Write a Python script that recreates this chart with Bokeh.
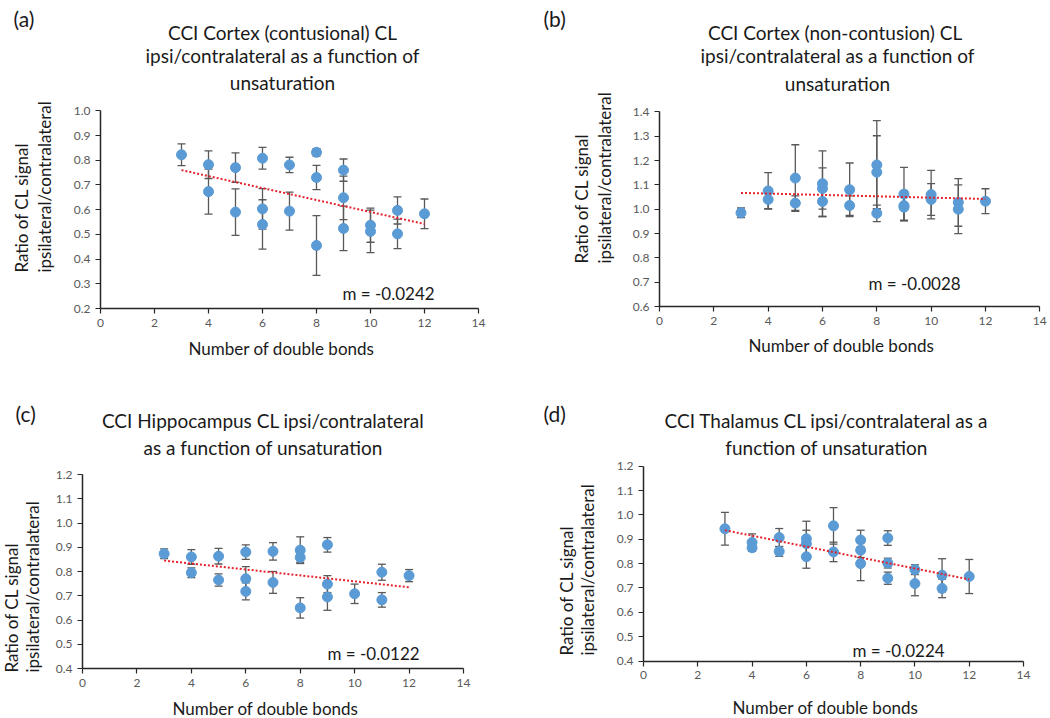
from bokeh.plotting import figure
from bokeh.models import (Range1d, FixedTicker, NumeralTickFormatter, Label,
                          Whisker, TeeHead, ColumnDataSource)
from bokeh.layouts import gridplot
from bokeh.embed import file_html
from bokeh.resources import INLINE

# ---------------- data ----------------
x_ticks = [0, 2, 4, 6, 8, 10, 12, 14]

# (a) CCI Cortex (contusional)
xa = [3, 4, 4, 5, 5, 6, 6, 6, 7, 7, 8, 8, 8, 9, 9, 9, 10, 10, 11, 11, 12]
ya = [0.822, 0.782, 0.673, 0.770, 0.590, 0.808, 0.603, 0.540, 0.781, 0.594, 0.832,
      0.730, 0.455, 0.760, 0.648, 0.524, 0.537, 0.512, 0.597, 0.502, 0.583]
ea = [0.044, 0.056, 0.091, 0.060, 0.094, 0.044, 0.082, 0.100, 0.031, 0.077, 0.015,
      0.049, 0.121, 0.045, 0.088, 0.090, 0.069, 0.086, 0.055, 0.060, 0.060]
trend_xa = [3, 12]
trend_ya = [0.760, 0.542]
yticks_a = [0.2, 0.3, 0.4, 0.5, 0.6, 0.7, 0.8, 0.9, 1.0]

# (b) CCI Cortex (non-contusion)
xb = [3, 4, 4, 5, 5, 6, 6, 6, 7, 7, 8, 8, 8, 9, 9, 9, 10, 10, 11, 11, 12]
yb = [0.985, 1.075, 1.040, 1.128, 1.025, 1.105, 1.085, 1.032, 1.080, 1.015, 1.182,
      1.152, 0.983, 1.062, 1.015, 1.008, 1.060, 1.040, 1.028, 1.000, 1.033]
eb = [0.020, 0.075, 0.038, 0.137, 0.030, 0.135, 0.085, 0.062, 0.110, 0.040, 0.182,
      0.150, 0.034, 0.110, 0.060, 0.055, 0.100, 0.065, 0.098, 0.100, 0.051]
trend_xb = [3, 12]
trend_yb = [1.067, 1.042]
yticks_b = [0.6, 0.7, 0.8, 0.9, 1.0, 1.1, 1.2, 1.3, 1.4]

# (c) CCI Hippocampus
xc = [3, 4, 4, 5, 5, 6, 6, 6, 7, 7, 8, 8, 8, 9, 9, 9, 10, 11, 11, 12]
yc = [0.873, 0.860, 0.795, 0.863, 0.765, 0.880, 0.770, 0.718, 0.883, 0.755,
      0.888, 0.858, 0.650, 0.910, 0.748, 0.695, 0.708, 0.797, 0.683, 0.783]
ec = [0.020, 0.030, 0.020, 0.032, 0.025, 0.030, 0.050, 0.035, 0.036, 0.045,
      0.055, 0.020, 0.042, 0.030, 0.035, 0.055, 0.040, 0.033, 0.030, 0.025]
trend_xc = [3, 12]
trend_yc = [0.845, 0.735]
yticks_c = [0.4, 0.5, 0.6, 0.7, 0.8, 0.9, 1.0, 1.1, 1.2]

# (d) CCI Thalamus
xd = [3, 4, 4, 5, 5, 6, 6, 6, 7, 7, 8, 8, 8, 9, 9, 9, 10, 10, 11, 11, 12]
yd = [0.943, 0.887, 0.865, 0.907, 0.850, 0.902, 0.882, 0.828, 0.955, 0.848, 0.897,
      0.855, 0.800, 0.905, 0.802, 0.740, 0.775, 0.718, 0.752, 0.698, 0.747]
ed = [0.067, 0.035, 0.015, 0.037, 0.020, 0.072, 0.055, 0.047, 0.075, 0.040, 0.040,
      0.030, 0.070, 0.030, 0.020, 0.025, 0.020, 0.050, 0.068, 0.038, 0.070]
trend_xd = [3, 12]
trend_yd = [0.937, 0.735]
yticks_d = [0.4, 0.5, 0.6, 0.7, 0.8, 0.9, 1.0, 1.1, 1.2]

# ---------------- styling ----------------
CW, CH = 525, 359
FONT = "Lato"
TXT = "#1a1a1a"
TICK = "#595959"
BLUE = "#5B9BD5"
ERR = "#595959"
RED = "#E5232E"


def add_text(p, x, cy, text, size, align="center", angle=0.0,
             baseline="middle", color=TXT):
    p.add_layout(Label(x=x, y=CH - cy, x_units="screen", y_units="screen",
                       text=text, text_font=FONT, text_font_size=f"{size}px",
                       text_color=color, text_align=align,
                       text_baseline=baseline, angle=angle))


def panel(xs, ys, es, tx, ty, yticks, frame, letter, letter_pos, titles,
          title_cx, title_ys, ylab_x, ylab_bottom, xlab_pos, mtext, m_pos):
    # frame = pixel box of the plotting area (x 0..14, y ymin..ymax) in canvas px
    L, R, T, B = frame
    ymin, ymax = yticks[0], yticks[-1]
    kx = 14.0 / (R - L)
    ky = (ymax - ymin) / (B - T)
    p = figure(width=CW, height=CH,
               x_range=Range1d(-L * kx, 14 + (CW - R) * kx),
               y_range=Range1d(ymin - (CH - B) * ky, ymax + T * ky),
               output_backend="svg", toolbar_location=None,
               min_border=0, min_border_left=0, min_border_right=0,
               min_border_top=0, min_border_bottom=0)
    p.outline_line_color = None
    p.grid.visible = False
    p.background_fill_color = "white"
    p.border_fill_color = "white"

    p.xaxis.fixed_location = ymin
    p.yaxis.fixed_location = 0
    p.xaxis.bounds = (0, 14)
    p.yaxis.bounds = (ymin, ymax)
    p.xaxis.ticker = FixedTicker(ticks=x_ticks)
    p.yaxis.ticker = FixedTicker(ticks=yticks)
    p.yaxis.formatter = NumeralTickFormatter(format="0.0")
    for ax in (p.xaxis, p.yaxis):
        ax.axis_line_color = "#262626"
        ax.axis_line_width = 1.5
        ax.major_tick_line_color = "#262626"
        ax.major_tick_line_width = 1.2
        ax.major_tick_in = 0
        ax.major_tick_out = 5
        ax.minor_tick_line_color = None
        ax.major_label_text_font = FONT
        ax.major_label_text_font_size = "12px"
        ax.major_label_text_color = TICK
        ax.major_label_standoff = 5

    src = ColumnDataSource(dict(x=xs, y=ys,
                                upper=[a + b for a, b in zip(ys, es)],
                                lower=[a - b for a, b in zip(ys, es)]))
    w = Whisker(source=src, base="x", upper="upper", lower="lower",
                dimension="height", line_color=ERR, line_width=1.3,
                upper_head=TeeHead(size=8, line_color=ERR, line_width=1.3),
                lower_head=TeeHead(size=8, line_color=ERR, line_width=1.3))
    p.add_layout(w)
    p.scatter("x", "y", source=src, size=10, fill_color=BLUE,
              line_color=BLUE, marker="circle")
    p.line(tx, ty, line_color=RED, line_width=2, line_dash="2 2")

    # texts (canvas pixel positions)
    add_text(p, letter_pos[0], letter_pos[1], letter, 21, align="left")
    for t, cy in zip(titles, title_ys):
        add_text(p, title_cx, cy, t, 19)
    add_text(p, ylab_x[0], ylab_bottom, "Ratio of CL signal", 17,
             align="left", angle=1.5708)
    add_text(p, ylab_x[1], ylab_bottom, "ipsilateral/contralateral", 17,
             align="left", angle=1.5708)
    add_text(p, xlab_pos[0], xlab_pos[1], "Number of double bonds", 17)
    add_text(p, m_pos[0], m_pos[1], mtext, 17, align="left")
    return p


pa = panel(xa, ya, ea, trend_xa, trend_ya, yticks_a,
           (100, 478, 110.3, 308), "(a)", (13, 18),
           ["CCI Cortex (contusional) CL",
            "ipsi/contralateral as a function of", "unsaturation"],
           282, [32, 55, 82], (21, 44), 272, (281, 348),
           "m = -0.0242", (342, 293))

pb = panel(xb, yb, eb, trend_xb, trend_yb, yticks_b,
           (134, 514.3, 111.4, 306), "(b)", (18, 18),
           ["CCI Cortex (non-contusion)  CL",
            "ipsi/contralateral as a function of", "unsaturation"],
           312, [32, 55, 83], (56, 79), 263, (316, 345),
           "m = -0.0028", (343, 283))

pc = panel(xc, yc, ec, trend_xc, trend_yc, yticks_c,
           (82, 463, 115, 309), "(c)", (15, 54),
           ["CCI Hippocampus  CL ipsi/contralateral",
            "as a function  of unsaturation"],
           265, [61, 88], (11, 32), 313, (265, 349),
           "m = -0.0122", (327, 294))

pd_ = panel(xd, yd, ed, trend_xd, trend_yd, yticks_d,
            (118, 498, 106.7, 301.5), "(d)", (18, 54),
            ["CCI Thalamus CL ipsi/contralateral as a",
             "function of unsaturation"],
            301, [61, 88], (41, 62), 296, (300, 348),
            "m = -0.0224", (327, 291))

grid = gridplot([[pa, pb], [pc, pd_]], toolbar_location=None)

open("out.html", "w").write(file_html(grid, INLINE))
